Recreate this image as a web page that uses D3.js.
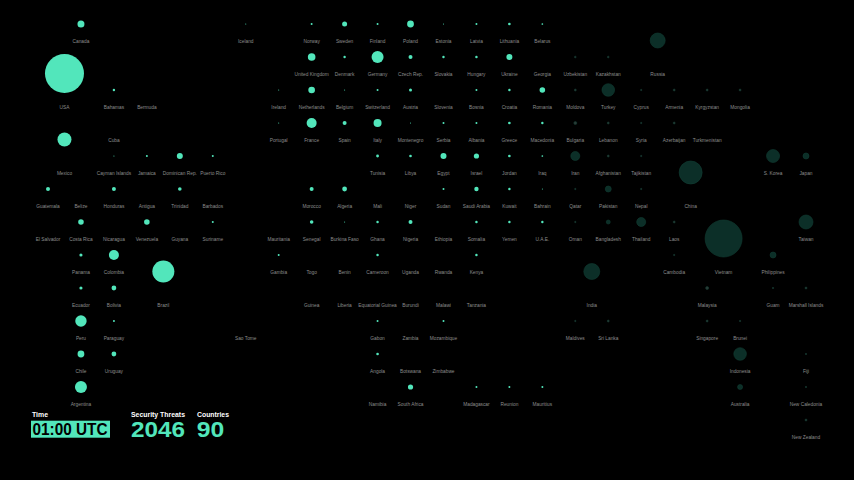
<!DOCTYPE html>
<html><head><meta charset="utf-8">
<script src="https://cdn.jsdelivr.net/npm/d3@7"></script>
<style>
html,body{margin:0;padding:0;background:#000;}
svg{display:block;}
</style></head>
<body>
<svg id="chart" width="854" height="480"></svg>
<script>
// Tile-map rows: [country, grid column, security threats, tile span (optional)]
const row0 = [["Canada",1,49],["Iceland",6,1],["Norway",8,4],["Sweden",9,25],["Finland",10,4],["Poland",11,46],["Estonia",12,1],["Latvia",13,4],["Lithuania",14,7],["Belarus",15,3],["Russia",18,225,2]];
const row1 = [["USA",0,1521,2],["United Kingdom",8,58],["Denmark",9,6],["Germany",10,144],["Czech Rep.",11,16],["Slovakia",12,6],["Hungary",13,6],["Ukraine",14,36],["Georgia",15,0],["Uzbekistan",16,3],["Kazakhstan",17,3]];
const row2 = [["Bahamas",2,6],["Bermuda",3,0],["Ireland",7,1],["Netherlands",8,44],["Belgium",9,1],["Switzerland",10,4],["Austria",11,9],["Slovenia",12,0],["Bosnia",13,4],["Croatia",14,6],["Romania",15,31],["Moldova",16,4],["Turkey",17,159],["Cyprus",18,2],["Armenia",19,4],["Kyrgyzstan",20,4],["Mongolia",21,4]];
const row3 = [["Mexico",0,196,2],["Cuba",2,0],["Portugal",7,1],["France",8,100],["Spain",9,16],["Italy",10,64],["Montenegro",11,1],["Serbia",12,4],["Albania",13,4],["Greece",14,7],["Macedonia",15,6],["Bulgaria",16,9],["Lebanon",17,4],["Syria",18,2],["Azerbaijan",19,4],["Turkmenistan",20,0]];
const row4 = [["Cayman Islands",2,1],["Jamaica",3,4],["Dominican Rep.",4,36],["Puerto Rico",5,4],["Tunisia",10,8],["Libya",11,7],["Egypt",12,36],["Israel",13,27],["Jordan",14,7],["Iraq",15,3],["Iran",16,81],["Afghanistan",17,4],["Tajikistan",18,2],["China",19,529,2],["S. Korea",22,169],["Japan",23,36]];
const row5 = [["Guatemala",0,16],["Belize",1,0],["Honduras",2,16],["Antigua",3,0],["Trinidad",4,13],["Barbados",5,0],["Morocco",8,16],["Algeria",9,23],["Mali",10,0],["Niger",11,0],["Sudan",12,4],["Saudi Arabia",13,19],["Kuwait",14,6],["Bahrain",15,1],["Qatar",16,2],["Pakistan",17,36],["Nepal",18,2]];
const row6 = [["El Salvador",0,0],["Costa Rica",1,31],["Nicaragua",2,0],["Venezuela",3,31],["Guyana",4,0],["Suriname",5,4],["Mauritania",7,0],["Senegal",8,13],["Burkina Faso",9,1],["Ghana",10,6],["Nigeria",11,16],["Ethiopia",12,0],["Somalia",13,6],["Yemen",14,6],["U.A.E.",15,6],["Oman",16,2],["Bangladesh",17,16],["Thailand",18,81],["Laos",19,4],["Vietnam",20,1369,2],["Taiwan",23,196]];
const row7 = [["Panama",1,10],["Colombia",2,100],["Brazil",3,484,2],["Gambia",7,4],["Togo",8,0],["Benin",9,0],["Cameroon",10,6],["Uganda",11,0],["Rwanda",12,0],["Kenya",13,6],["India",16,256,2],["Cambodia",19,2],["Philippines",22,36]];
const row8 = [["Ecuador",1,10],["Bolivia",2,23],["Guinea",8,0],["Liberia",9,0],["Equatorial Guinea",10,0],["Burundi",11,0],["Malawi",12,0],["Tanzania",13,0],["Malaysia",20,9],["Guam",22,2],["Marshall Islands",23,4]];
const row9 = [["Peru",1,130],["Paraguay",2,4],["Sao Tome",6,0],["Gabon",10,4],["Zambia",11,0],["Mozambique",12,4],["Maldives",16,2],["Sri Lanka",17,4],["Singapore",20,4],["Brunei",21,2]];
const row10 = [["Chile",1,46],["Uruguay",2,23],["Angola",10,7],["Botswana",11,0],["Zimbabwe",12,0],["Indonesia",21,159],["Fiji",23,2]];
const row11 = [["Argentina",1,144],["Namibia",10,0],["South Africa",11,27],["Madagascar",13,4],["Reunion",14,4],["Mauritius",15,4],["Australia",21,25],["New Caledonia",23,2]];
const row12 = [["New Zealand",23,4]];
const tileRows = [row0,row1,row2,row3,row4,row5,row6,row7,row8,row9,row10,row11,row12];

// Countries currently in night time (drawn dimmed)
const nightCountries = ["Russia","Uzbekistan","Kazakhstan","Moldova","Turkey","Cyprus","Armenia","Kyrgyzstan","Mongolia",
  "Bulgaria","Lebanon","Syria","Azerbaijan","Turkmenistan","Iran","Afghanistan","Tajikistan","China","S. Korea","Japan",
  "Qatar","Pakistan","Nepal","Oman","Bangladesh","Thailand","Laos","Vietnam","Taiwan","India","Cambodia","Philippines",
  "Malaysia","Guam","Marshall Islands","Maldives","Sri Lanka","Singapore","Brunei","Indonesia","Fiji","Australia",
  "New Caledonia","New Zealand"];

const timeLabel = "01:00 UTC";
const totalThreats = 2046;
const totalCountries = 90;

const data = [];
tileRows.forEach((row, r) => row.forEach(d => {
  const span = d[3] || 1;
  data.push({name: d[0], col: d[1] + (span-1)/2, row: r + (span-1)/2, labelRow: r + span - 1,
             value: d[2], night: nightCountries.includes(d[0])});
}));

const svg = d3.select("#chart");
const x = d3.scaleLinear().domain([0, 23]).range([48, 806]);
const y = d3.scaleLinear().domain([0, 12]).range([24, 420]);
const rScale = d3.scaleSqrt().domain([0, 1521]).range([0, 19.5]);

const MINT = "#52e6bb";

const g = svg.append("g");
g.selectAll("circle.tile").data(data.filter(d => d.value > 0)).join("circle")
  .attr("class","tile")
  .attr("cx", d => x(d.col))
  .attr("cy", d => y(d.row))
  .attr("r", d => rScale(d.value))
  .attr("fill", d => d.night ? (rScale(d.value) < 1.6 ? "#2e3a37" : "#0c2f28") : MINT)
  .attr("stroke", d => d.night ? "#113d33" : "none")
  .attr("stroke-width", 0.6);

g.selectAll("text.lbl").data(data).join("text")
  .attr("class","lbl")
  .attr("x", d => x(d.col))
  .attr("y", d => y(d.labelRow) + 18.5)
  .attr("text-anchor","middle")
  .attr("font-family","Liberation Sans, Arial, sans-serif")
  .attr("font-size", 4.8)
  .attr("fill","#8c8c8c")
  .text(d => d.name);

// Bottom-left summary panel
const font = "Liberation Sans, Arial, sans-serif";
const heads = [["Time",32,16],["Security Threats",131,54],["Countries",197,32]];
svg.selectAll("text.head").data(heads).join("text")
  .attr("class","head")
  .attr("x", d => d[1]).attr("y", 416.5)
  .attr("font-family", font).attr("font-weight","bold").attr("font-size", 7.6)
  .attr("fill","#ffffff")
  .attr("textLength", d => d[2]).attr("lengthAdjust","spacingAndGlyphs")
  .text(d => d[0]);

svg.append("rect").attr("x",31).attr("y",420.7).attr("width",79).attr("height",17).attr("fill",MINT);
svg.append("text").attr("x",32.5).attr("y",435.3)
  .attr("font-family", font).attr("font-weight","bold").attr("font-size",17)
  .attr("fill","#000").attr("textLength",75).attr("lengthAdjust","spacingAndGlyphs")
  .text(timeLabel);
svg.append("text").attr("x",131).attr("y",437.3)
  .attr("font-family", font).attr("font-weight","bold").attr("font-size",22)
  .attr("fill",MINT).attr("textLength",54).attr("lengthAdjust","spacingAndGlyphs")
  .text(totalThreats);
svg.append("text").attr("x",196.7).attr("y",437.3)
  .attr("font-family", font).attr("font-weight","bold").attr("font-size",22)
  .attr("fill",MINT).attr("textLength",27.5).attr("lengthAdjust","spacingAndGlyphs")
  .text(totalCountries);
</script>
</body></html>
